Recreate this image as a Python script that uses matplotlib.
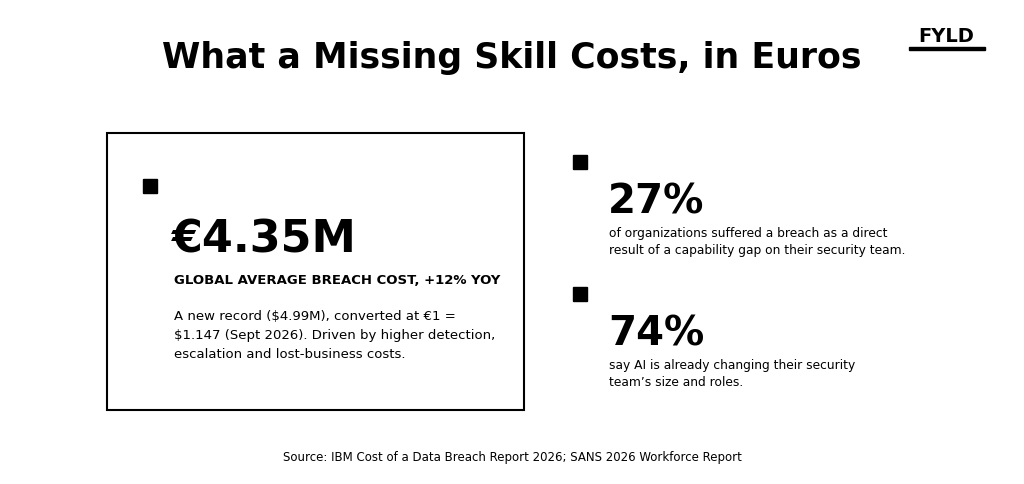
import matplotlib
matplotlib.use("Agg")
import matplotlib.pyplot as plt
from matplotlib.patches import Rectangle

title = "What a Missing Skill Costs, in Euros"
main_value = 4.35
yoy = 12
usd_value = 4.99
stat_values = [27, 74]
stat_texts = ["of organizations suffered a breach as a direct\nresult of a capability gap on their security team.",
              "say AI is already changing their security\nteam’s size and roles."]
source = "Source: IBM Cost of a Data Breach Report 2026; SANS 2026 Workforce Report"

W, H = 1024, 484
fig = plt.figure(figsize=(W/100, H/100), dpi=100)
ax = fig.add_axes([0, 0, 1, 1])
ax.set_xlim(0, W); ax.set_ylim(H, 0); ax.axis("off")
F = "DejaVu Sans"

ax.text(512, 58, title, ha="center", va="center", fontsize=25, fontweight="black", family=F)
ax.text(946, 37, "FYLD", ha="center", va="center", fontsize=14, fontweight="black", family=F)
ax.add_patch(Rectangle((909, 47), 76, 3, color="black"))

ax.add_patch(Rectangle((107, 133), 417, 277, fill=False, lw=1.5, ec="black"))
ax.add_patch(Rectangle((143, 179), 14, 14, color="black"))
ax.text(172, 240, f"€{main_value:.2f}M", ha="left", va="center", fontsize=32, fontweight="black", family=F)
ax.text(174, 281, f"GLOBAL AVERAGE BREACH COST, +{yoy}% YOY", ha="left", va="center", fontsize=9.5, fontweight="bold", family=F)
ax.text(174, 335, f"A new record (${usd_value:.2f}M), converted at €1 =\n$1.147 (Sept 2026). Driven by higher detection,\nescalation and lost-business costs.",
        ha="left", va="center", fontsize=9.5, family=F, linespacing=1.6)

for i, (v, t) in enumerate(zip(stat_values, stat_texts)):
    y0 = 155 + i * 132
    ax.add_patch(Rectangle((573, y0), 14, 14, color="black"))
    ax.text(608, y0 + 48, f"{v}%", ha="left", va="center", fontsize=29, fontweight="black", family=F)
    ax.text(609, y0 + 87, t, ha="left", va="center", fontsize=8.8, family=F, linespacing=1.4)

ax.text(512, 457, source, ha="center", va="center", fontsize=8.5, family=F)
fig.savefig("out.png", dpi=100, facecolor="white")
